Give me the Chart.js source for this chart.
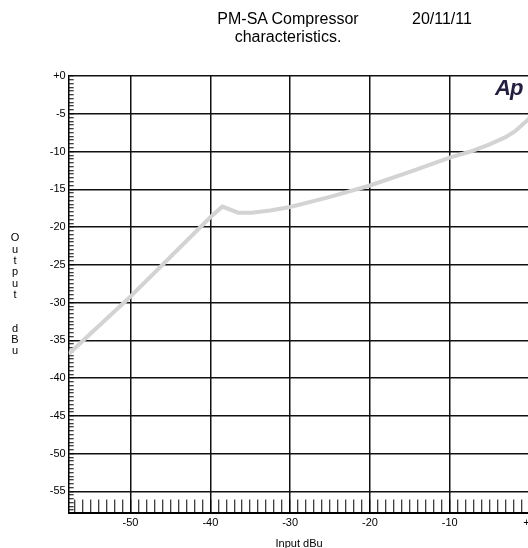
<!DOCTYPE html>
<html>
<head>
<meta charset="utf-8">
<script src="https://cdn.jsdelivr.net/npm/chart.js@4/dist/chart.umd.min.js"></script>
<style>
  html, body { margin: 0; padding: 0; background: #fff; overflow: hidden; width: 528px; height: 548px; }
  #wrap { position: relative; width: 528px; height: 548px; overflow: hidden; }
  canvas { position: absolute; left: 0; top: 0; }
  .txt { position: absolute; font-family: "Liberation Sans", Arial, sans-serif; color: #000; white-space: nowrap; }
  #title { left: 188px; top: 9.5px; width: 200px; text-align: center; font-size: 16px; line-height: 18px; }
  #date { left: 412px; top: 9.5px; font-size: 16px; line-height: 18px; }
  #ytitle { left: 9px; top: 232.4px; width: 12px; text-align: center; font-size: 11px; line-height: 11.3px; }
  #logo { left: 495px; top: 76.7px; font-size: 22px; line-height: 22px; font-weight: bold; font-style: italic; color: #231f3e; letter-spacing: -1px; }
</style>
</head>
<body>
<div id="wrap">
  <canvas id="c" width="560" height="552"></canvas>
  <div class="txt" id="title">PM-SA Compressor<br>characteristics.</div>
  <div class="txt" id="date">20/11/11</div>
  <div class="txt" id="ytitle">O<br>u<br>t<br>p<br>u<br>t<br>&nbsp;<br>&nbsp;<br>d<br>B<br>u</div>
  <div class="txt" id="logo">Ap</div>
</div>
<script>
// ---- data ----
const inputDbu  = [-57.75, -50, -40, -38.5, -36.5, -34.8, -32.5, -30, -25, -20, -15, -10, -7.4, -5, -3, -1.8, -0.2, 0];
const outputDbu = [-36.8, -29.2, -18.7, -17.3, -18.1, -18.1, -17.8, -17.35, -16.0, -14.5, -12.7, -10.8, -10.0, -9.05, -8.1, -7.3, -5.8, -5.55];

const xTickValues = [-50, -40, -30, -20, -10, 0];
const xTickLabels = ['-50', '-40', '-30', '-20', '-10', '+0'];
const yTickValues = [0, -5, -10, -15, -20, -25, -30, -35, -40, -45, -50, -55];
const yTickLabels = ['+0', '-5', '-10', '-15', '-20', '-25', '-30', '-35', '-40', '-45', '-50', '-55'];

const points = inputDbu.map((x, i) => ({ x: x, y: outputDbu[i] }));

function labelFor(values, labels, v) {
  for (let i = 0; i < values.length; i++) {
    if (Math.abs(values[i] - v) < 1e-6) return labels[i];
  }
  return '';
}
function isMajor(values, v) {
  return values.some(t => Math.abs(t - v) < 1e-6);
}

const FONT = "'Liberation Sans', Arial, sans-serif";

new Chart(document.getElementById('c'), {
  type: 'scatter',
  data: {
    datasets: [{
      data: points,
      showLine: true,
      borderColor: '#d3d3d3',
      backgroundColor: '#d3d3d3',
      borderWidth: 4,
      pointRadius: 0,
      tension: 0
    }]
  },
  options: {
    responsive: false,
    animation: false,
    events: [],
    layout: { padding: { top: 76, left: 0, right: 30.5, bottom: 0 } },
    plugins: { legend: { display: false }, tooltip: { enabled: false }, title: { display: false } },
    scales: {
      x: {
        type: 'linear',
        position: 'bottom',
        min: -57.75,
        max: 0,
        afterFit: (s) => { s.height = 39.5; },
        ticks: {
          stepSize: 1,
          includeBounds: false,
          autoSkip: false,
          maxRotation: 0,
          padding: 17,
          color: '#000',
          font: { family: FONT, size: 11 },
          callback: (v) => labelFor(xTickValues, xTickLabels, v)
        },
        grid: {
          drawOnChartArea: true,
          drawTicks: true,
          tickLength: -13,
          tickColor: '#000',
          tickWidth: 1,
          color: (ctx) => (ctx.tick && isMajor(xTickValues, ctx.tick.value)) ? '#111' : 'rgba(0,0,0,0)',
          lineWidth: 1.5
        },
        border: { display: true, color: '#000', width: 2 },
        title: {
          display: true,
          text: 'Input dBu',
          color: '#000',
          font: { family: FONT, size: 11 },
          padding: { top: 0, bottom: 1 }
        }
      },
      y: {
        type: 'linear',
        position: 'left',
        min: -57.8,
        max: 0,
        afterFit: (s) => { s.width = 68.7; },
        ticks: {
          stepSize: 0.5,
          includeBounds: false,
          autoSkip: false,
          padding: 8,
          color: '#000',
          font: { family: FONT, size: 11 },
          callback: (v) => labelFor(yTickValues, yTickLabels, v)
        },
        grid: {
          drawOnChartArea: true,
          drawTicks: true,
          tickLength: -5,
          tickColor: '#000',
          tickWidth: 1,
          color: (ctx) => (ctx.tick && isMajor(yTickValues, ctx.tick.value)) ? '#111' : 'rgba(0,0,0,0)',
          lineWidth: 1.5
        },
        border: { display: true, color: '#000', width: 1.5 }
      }
    }
  }
});
</script>
</body>
</html>
